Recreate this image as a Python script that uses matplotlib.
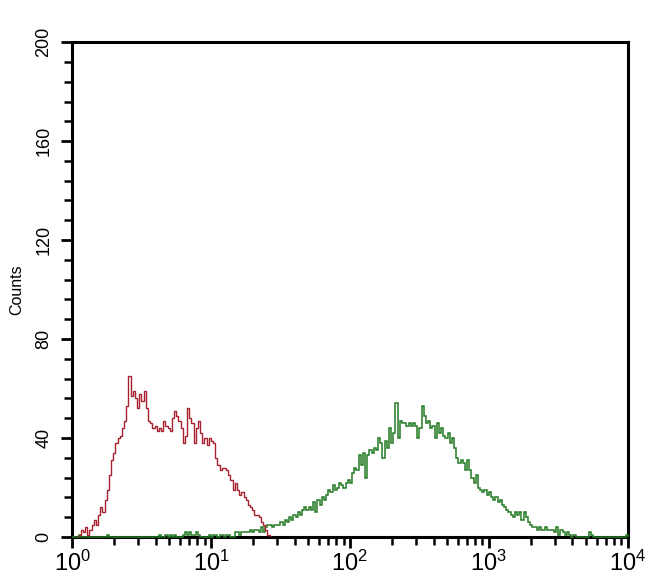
import numpy as np
import matplotlib
matplotlib.use("Agg")
import matplotlib.pyplot as plt
from matplotlib.ticker import MultipleLocator, LogLocator, NullFormatter

plt.rcParams['font.family'] = ['Liberation Sans', 'DejaVu Sans']
plt.rcParams['mathtext.default'] = 'regular'

# 256 channels spread over 4 log decades
n_channels = 256

# control sample (red), channels 0..90
red_counts = [0, 0, 0, 1, 3, 2, 4, 1, 3, 5,
              7, 5, 9, 12, 10, 15, 19, 25, 31, 34,
              38, 40, 41, 44, 47, 53, 65, 57, 59, 56,
              52, 58, 55, 59, 52, 47, 46, 44, 45, 43,
              44, 43, 47, 45, 44, 43, 48, 51, 49, 47,
              44, 38, 41, 52, 48, 46, 38, 44, 47, 42,
              38, 40, 37, 40, 39, 38, 32, 29, 27, 28,
              28, 27, 25, 23, 19, 22, 19, 17, 18, 16,
              15, 13, 12, 11, 9, 9, 8, 6, 5, 3,
              1]

# stained sample (green), channels 0..255
green_counts = [0, 0, 0, 1, 0, 0, 0, 0, 0, 0,
                0, 0, 0, 0, 0, 0, 1, 0, 0, 0,
                0, 0, 0, 0, 0, 0, 0, 0, 0, 0,
                0, 0, 0, 0, 0, 0, 0, 0, 0, 0,
                1, 0, 0, 1, 0, 1, 0, 1, 0, 0,
                0, 1, 2, 1, 2, 1, 1, 2, 1, 0,
                0, 0, 0, 1, 0, 1, 1, 0, 1, 1,
                0, 1, 1, 0, 0, 2, 2, 1, 2, 2,
                2, 2, 3, 2, 3, 3, 2, 4, 2, 4,
                5, 5, 4, 5, 5, 5, 6, 5, 7, 6,
                8, 7, 9, 8, 10, 9, 11, 12, 11, 12,
                11, 14, 10, 15, 13, 16, 15, 17, 19, 18,
                21, 19, 20, 22, 21, 20, 22, 23, 22, 26,
                28, 27, 33, 29, 34, 24, 33, 35, 34, 36,
                35, 40, 38, 32, 39, 36, 44, 38, 42, 54,
                40, 47, 46, 46, 45, 46, 45, 46, 45, 40,
                44, 53, 49, 46, 47, 44, 45, 40, 46, 42,
                44, 41, 40, 42, 38, 40, 36, 32, 30, 31,
                30, 27, 31, 27, 24, 22, 25, 20, 19, 18,
                19, 17, 18, 16, 15, 16, 14, 15, 13, 12,
                11, 10, 9, 8, 10, 9, 10, 7, 10, 8,
                6, 5, 4, 4, 3, 4, 3, 3, 4, 3,
                3, 3, 2, 4, 1, 3, 2, 1, 2, 1,
                0, 1, 0, 0, 0, 0, 0, 0, 2, 1,
                0, 0, 0, 0, 0, 0, 0, 0, 0, 0,
                0, 0, 0, 0, 0, 1]

x_ticks = [1, 10, 100, 1000, 10000]
x_labels = ['$10^0$', '$10^1$', '$10^2$', '$10^3$', '$10^4$']
y_ticks = [0, 40, 80, 120, 160, 200]

edges = 10 ** (np.arange(n_channels + 1) * 4.0 / n_channels)

fig = plt.figure(figsize=(6.5, 5.85), dpi=100)
ax = fig.add_axes([0.1108, 0.082, 0.855, 0.846])

ax.stairs(green_counts, edges[:len(green_counts) + 1], color='#237a23', lw=1.1,
          zorder=3, clip_on=False)
ax.stairs(red_counts, edges[:len(red_counts) + 1], color='#a8202e', lw=1.0,
          zorder=3.5)

ax.set_xscale('log')
ax.set_xlim(1, 1e4)
ax.set_ylim(0, 200)

ax.xaxis.set_minor_locator(LogLocator(base=10, subs=np.arange(2, 10), numticks=50))
ax.xaxis.set_minor_formatter(NullFormatter())
ax.set_xticks(x_ticks)
ax.set_xticklabels(x_labels, fontsize=17)

ax.yaxis.set_minor_locator(MultipleLocator(8))
ax.set_yticks(y_ticks)
ax.set_yticklabels([str(v) for v in y_ticks], rotation=90, va='center', fontsize=13)

for s in ax.spines.values():
    s.set_linewidth(2.2)

ax.tick_params(axis='both', which='major', length=8, width=2, direction='out')
ax.tick_params(axis='both', which='minor', length=6, width=1.8, direction='out')
ax.tick_params(axis='x', which='major', pad=2)
ax.tick_params(axis='y', which='major', pad=6)
ax.set_ylabel('Counts', fontsize=11.5, labelpad=8)

plt.savefig('out.png', dpi=100)
